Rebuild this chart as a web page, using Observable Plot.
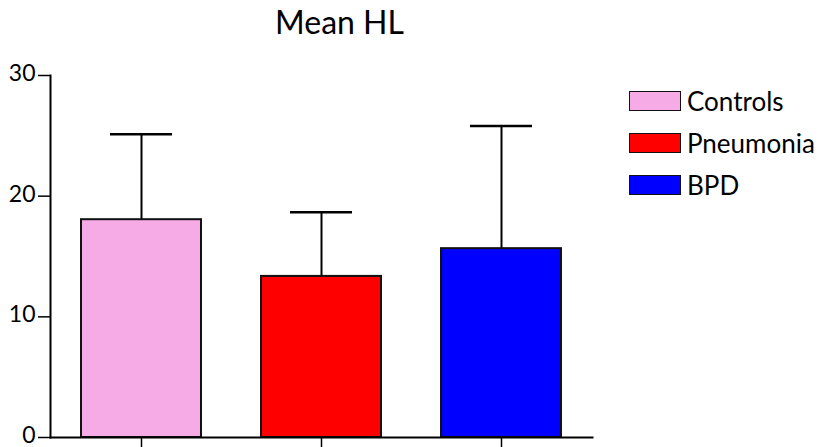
<!DOCTYPE html>
<html>
<head>
<meta charset="utf-8">
<script src="https://cdn.jsdelivr.net/npm/d3@7"></script>
<script src="https://cdn.jsdelivr.net/npm/@observablehq/plot@0.6"></script>
<style>
  html, body { margin: 0; padding: 0; background: #fff; }
  #wrap { position: relative; width: 822px; height: 447px; overflow: hidden; font-family: Lato, "DejaVu Sans", sans-serif; }
  #legend { position: absolute; left: 629px; top: 91px; }
  .row { display: flex; align-items: center; height: 20px; margin-bottom: 22px; }
  .sw { width: 50px; height: 18px; border: 1.5px solid #111; box-sizing: content-box; margin-right: 6px; }
  .lab { font-size: 26px; line-height: 20px; color: #000; }
</style>
</head>
<body>
<div id="wrap"></div>
<script>
const groups = ["Controls", "Pneumonia", "BPD"];
const means = [18.05, 13.35, 15.65];
const sds = [7.08, 5.32, 10.16];
const colors = ["#F6AAE6", "#FF0000", "#0000FF"];
const yTicks = [0, 10, 20, 30];
const title = "Mean HL";

const data = groups.map((g, i) => ({group: g, mean: means[i], sd: sds[i], top: means[i] + sds[i]}));

const chart = Plot.plot({
  width: 822,
  height: 447,
  marginLeft: 50,
  marginRight: 230,
  marginTop: 75,
  marginBottom: 10,
  style: {fontFamily: "Lato, 'DejaVu Sans', sans-serif", background: "#fff", overflow: "visible"},
  x: {domain: groups, paddingInner: 0.335, paddingOuter: 0.166, axis: null},
  y: {domain: [0, 30], axis: null},
  color: {domain: groups, range: colors},
  marks: [
    Plot.ruleX(data, {x: "group", y1: "mean", y2: "top", stroke: "#000", strokeWidth: 2}),
    Plot.tickY(data, {x: "group", y: "top", stroke: "#000", strokeWidth: 2.5, insetLeft: 29, insetRight: 29}),
    Plot.barY(data, {x: "group", y: "mean", fill: "group", stroke: "#111", strokeWidth: 2}),
    Plot.axisY({ticks: yTicks, tickSize: 12, tickFormat: () => "", label: null, stroke: "#000", strokeWidth: 1.5}),
    Plot.axisY({ticks: yTicks, tickSize: 0, tickPadding: 15, tickFormat: d3.format("d"), fontSize: 23, dy: -2, label: null, color: "#000"}),
    Plot.axisX({tickSize: 12, tickFormat: () => "", label: null, stroke: "#000", strokeWidth: 1.5}),
    Plot.frame({anchor: "left", stroke: "#000", strokeWidth: 2}),
    Plot.frame({anchor: "bottom", stroke: "#000", strokeWidth: 2}),
    Plot.text([title], {frameAnchor: "top", dx: 18, dy: -64, fontSize: 32, textAnchor: "middle", lineAnchor: "top", fill: "#000"})
  ]
});

const wrap = document.getElementById("wrap");
wrap.appendChild(chart);

const legend = document.createElement("div");
legend.id = "legend";
groups.forEach((g, i) => {
  const row = document.createElement("div");
  row.className = "row";
  const sw = document.createElement("div");
  sw.className = "sw";
  sw.style.background = colors[i];
  const lab = document.createElement("span");
  lab.className = "lab";
  lab.textContent = g;
  row.appendChild(sw);
  row.appendChild(lab);
  legend.appendChild(row);
});
wrap.appendChild(legend);
</script>
</body>
</html>
